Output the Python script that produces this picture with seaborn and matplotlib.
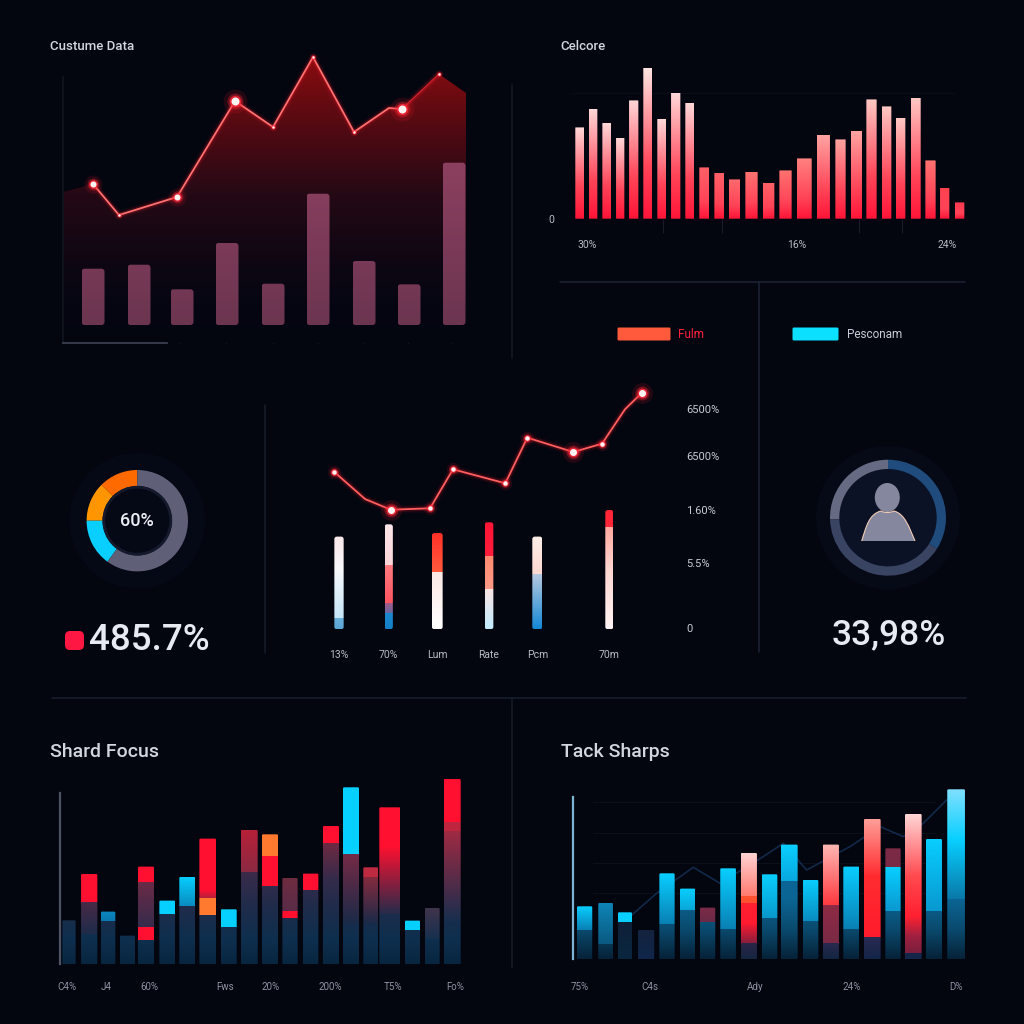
import numpy as np
import pandas as pd
import seaborn as sns
import matplotlib
matplotlib.use("Agg")
import matplotlib.pyplot as plt
from matplotlib.colors import to_rgb
from matplotlib.patches import Circle, Ellipse, FancyBboxPatch, PathPatch, Rectangle
from matplotlib.path import Path

BG = "#03050f"
sns.set_theme(style="dark", rc={"figure.facecolor": BG, "axes.facecolor": "none", "savefig.facecolor": BG})
plt.rcParams["font.family"] = ["Roboto", "DejaVu Sans"]

# ---- Custume Data: area line and bars
area_pos = [0, 30, 56, 114, 172, 210, 250, 291, 326, 339, 376, 403]
area_val = [133, 141, 110, 128, 224, 198, 268, 193, 217, 216, 251, 232]
area_big = [4, 9]
area_mid = [1, 3]
area_small = [2, 5, 6, 7, 10]
custom_pos = [30, 76, 119, 164, 210, 255, 301, 346, 391]
custom_val = [56.3, 60.3, 35.7, 82, 41.3, 131.3, 64, 40.7, 162.3]
custom_w = [23] * 9
custom_ticks = [117, 163, 210, 255, 300, 345, 389]

# ---- Celcore: red columns
cel_pos = [9.8, 23, 36.7, 50.2, 63.7, 77.8, 91.8, 105.7, 119.8, 134.3, 149.2, 164.5, 181.5,
           198.5, 215.5, 234.2, 253.3, 270.5, 286.5, 301.5, 316.5, 330.5, 345.7, 360.5, 374.7, 389.5]
cel_val = [91.3, 110, 95.7, 81, 118.3, 151, 100, 126, 116, 51.3, 45.7, 39.3, 47,
           36, 48.3, 60.3, 84, 79.3, 88, 119.3, 112.3, 101, 121, 58.3, 31, 16.3]
cel_w = [9, 8.7, 8.7, 8.3, 9.3, 9, 9, 9.3, 9, 10, 9.7, 11, 12.3,
         11.7, 12.3, 15, 13.3, 10.3, 11, 10.3, 9.7, 9.7, 10, 10.3, 9.3, 9.7]
cel_top = ["#ffd8d8", "#ffd8d8", "#ffd8d8", "#ffd8d8", "#ffd8d8", "#ffe6e2", "#ffd8d8", "#ffd8d8", "#ffd8d8",
           "#ff6068", "#ff6068", "#ff6a6e", "#ff7272", "#ff6266", "#ff7270", "#ff8280", "#ffa4a2", "#ffa4a2",
           "#ffa4a2", "#ffc8c4", "#ffc8c4", "#ffc8c4", "#ffc8c4", "#ff7270", "#ff4250", "#ff3850"]
cel_tick_pos = [16.7, 226.7, 376.7]
cel_tick_labels = ["30%", "16%", "24%"]
cel_minor = [92.7, 152.3, 289, 332]

# ---- Donut and progress ring
donut_val = [12.5, 12.5, 15, 60]
donut_col = ["#ff6a00", "#ff9500", "#08cfff", "#5f5f78"]
ring_val = [25.5, 40.52, 33.98]
ring_col = ["#666a82", "#394463", "#1f4c7c"]

# ---- Middle panel: line above segmented bars
mid_line_pos = [4, 35, 60.7, 100, 123, 175.3, 197.3, 243.3, 272, 295, 312]
mid_line_val = [157.6, 130.3, 119.6, 121, 160, 146, 191.6, 177.3, 185.6, 220, 236.6]
mid_big = [2, 7, 10]
mid_small = [0, 3, 4, 5, 6, 8]
mid_pos = [9, 58.7, 107.3, 159, 207.3, 279.3]
mid_val = [92.7, 105, 96.3, 107, 92.7, 119.3]
mid_w = [9.3, 8.3, 10.7, 8.7, 10, 8]
mid_labels = ["13%", "70%", "Lum", "Rate", "Pcm", "70m"]
mid_layers = [
    [(11, 59.3, "#c6e6f8", "#f8f8fb"), (59.3, 92.7, "#f8f8fb", "#fbe8ea"), (0, 11, "#5aa4d4", "#6ab0dc")],
    [(64.3, 105, "#fbd5d8", "#fbe6ea"), (26, 64.3, "#ff5460", "#ff7a80"), (16, 26, "#6a6aa0", "#a05a8a"), (0, 16, "#1580c8", "#1a88d0")],
    [(56.7, 96.3, "#ff5a3c", "#ff3028"), (0, 56.7, "#ffffff", "#fbe8e4")],
    [(73.3, 107, "#ff1c3c", "#ff1535"), (40, 73.3, "#ff9a88", "#ff8a70"), (0, 40, "#c0ecff", "#fbe4e4")],
    [(54.3, 92.7, "#fcd8d0", "#fceee8"), (0, 54.3, "#1488d4", "#b4c8e0")],
    [(102, 119.3, "#ff2538", "#ff2538"), (60, 102, "#ffd5d0", "#ffa8a0"), (0, 60, "#fff4f4", "#ffd5d0")],
]
mid_right_pos = [220, 173, 119, 66, 1]
mid_right_labels = ["6500%", "6500%", "1.60%", "5.5%", "0"]

# ---- Shard Focus
RED, CYAN, ORNG = "#ff1030", "#06d0ff", "#ff7a2e"
focus_pos = [9, 29.2, 48, 67.5, 86, 107.2, 127.3, 147.7, 168.7, 189.2, 210, 230, 250.5, 271, 291,
             310.8, 329.8, 352.5, 372.2, 392.2]
focus_val = [44, 90.3, 52.7, 28.7, 97.7, 63.7, 87.3, 125.7, 55, 134.3, 130, 86.3, 90.7, 138.3, 177,
             97, 157, 43.7, 56.3, 185.3]
focus_w = [13.3, 16.3, 14.7, 15, 16, 15.7, 16, 16.7, 16, 17, 16, 15.3, 15.7, 16, 16, 15, 21, 15, 15, 17]
focus_layers = [
    [],
    [(61.7, 90.3, RED, RED), (30, 61.7, "#1e2c4a", "#482a46")],
    [(42.7, 52.7, "#0a78b0", "#0a86c0")],
    [],
    [(82, 97.7, RED, RED), (37, 82, "#362c4c", "#6a2a46"), (23.7, 37, RED, RED)],
    [(50, 63.7, CYAN, CYAN)],
    [(57.7, 87.3, "#0a8cc0", CYAN)],
    [(74, 125.7, RED, RED), (66, 74, "#b5203a", RED), (48.7, 66, ORNG, ORNG)],
    [(37, 55, CYAN, CYAN)],
    [(91, 134.3, "#8a2a42", "#b82038")],
    [(108.3, 130, ORNG, ORNG), (78.3, 108.3, RED, RED)],
    [(52.7, 86.3, "#5a2c48", "#6e2c40"), (46, 52.7, RED, RED)],
    [(74.3, 90.7, RED, RED)],
    [(120.3, 138.3, RED, RED)],
    [(110.3, 177, CYAN, CYAN), (40, 110.3, "#182a48", "#762a46")],
    [(87.7, 97, "#c02a40", "#c02a40"), (40, 87.7, "#182a48", "#862a3e")],
    [(117.7, 157, RED, RED), (50, 117.7, "#242c4a", RED)],
    [(33.7, 43.7, CYAN, CYAN)],
    [(25, 56.3, "#16304e", "#42344c")],
    [(141.7, 185.3, RED, RED), (132.7, 141.7, "#c02540", "#c02540"), (40, 132.7, "#142e4e", "#a02a42")],
]
focus_ramp = [(0, "#08263f"), (25, "#0e2f4f"), (55, "#1e2c4a"), (85, "#352b4a"),
              (110, "#5e2a44"), (135, "#852840"), (190, "#a82a3e")]
focus_tick_pos = [7.3, 46, 89, 165, 210.7, 270.7, 333.3, 395]
focus_tick_labels = ["C4%", "J4", "60%", "Fws", "20%", "200%", "T5%", "Fo%"]

# ---- Tack Sharps
C2 = "#08cfff"
tack_pos = [11.3, 32.3, 51.7, 72.8, 93.7, 114.2, 134.3, 154.8, 175.5, 196.2, 216, 237.2, 257.5, 278,
            299, 319.7, 340, 360.7, 382.8]
tack_val = [53, 56.3, 47, 29.3, 86, 70.7, 51.7, 91, 106.3, 85, 114.7, 79.3, 114.7, 92.7, 140.3,
            111, 145.3, 120.3, 170]
tack_w = [15.3, 14.7, 14, 16.3, 15.3, 15, 15.3, 15.7, 16.3, 15.7, 16.7, 15.7, 16.3, 16, 16.7, 15.3, 16.7, 16, 17.7]
tack_layers = [
    [(29.3, 53, "#0a80b4", C2)],
    [(15, 56.3, "#0a5a82", "#0e86b8")],
    [(36.7, 47, C2, C2), (0, 36.7, "#0a2740", "#0f2038")],
    [(0, 29.3, "#10264a", "#14233e")],
    [(35, 86, "#0a80b4", C2)],
    [(49.3, 70.7, "#08a8d8", C2)],
    [(36.7, 51.7, "#6a2a48", "#7a2a45")],
    [(30, 91, "#0a80b4", C2)],
    [(62.7, 106.3, "#ff7a70", "#ffd5d5"), (55.3, 62.7, "#ff5030", "#ff5030"), (36, 55.3, "#ff1a30", "#ff2030"),
     (16, 36, "#8a1f3c", "#ff1a30"), (0, 16, "#152540", "#2a2548")],
    [(41, 85, "#0898cc", C2)],
    [(77.7, 114.7, "#08a8de", C2)],
    [(37.7, 79.3, "#0a8cc0", C2)],
    [(54.3, 114.7, "#ff3a40", "#ffb8b4"), (16, 54.3, "#7a2a45", "#8f2a45"), (0, 16, "#122540", "#2a2a50")],
    [(30, 92.7, "#0a80b4", C2)],
    [(82.7, 140.3, "#ff2c30", "#ffa09a"), (21.5, 82.7, "#ff1c2c", "#ff2c30"), (0, 21.5, "#14254a", "#2a2a50")],
    [(92, 111, "#7a2a45", "#7a2a45"), (47.7, 92, "#0a98d0", C2)],
    [(82.7, 145.3, "#ff4a50", "#ffd8d8"), (42.7, 82.7, "#ff2030", "#ff4a50"), (22.7, 42.7, "#a02040", "#ff2030"),
     (6, 22.7, "#7a1f3c", "#a02040"), (0, 6, "#14254a", "#14254a")],
    [(47.7, 120.3, "#0898d0", C2)],
    [(119.3, 170, C2, "#80e0ff"), (60, 119.3, "#0a78a8", C2)],
]
tack_ramp = [(0, "#062238"), (30, "#0a4a6e"), (60, "#0a6594"), (180, "#0a6594")]
tack_trend_pos = [56.7, 83.3, 120, 146.7, 190, 210, 233.3, 276.7, 306.7, 330, 350, 373.3]
tack_trend_val = [42.7, 66, 92, 76, 102.7, 116, 89.3, 112.7, 132.7, 122.7, 136, 159.3]
tack_grid = [157.7, 126, 96, 66]
tack_tick_pos = [6.7, 76.7, 181.7, 278.3, 382.7]
tack_tick_labels = ["75%", "C4s", "Ady", "24%", "D%"]

fig = plt.figure(figsize=(10.24, 10.24), dpi=100)
SIZE = 1024.0


def panel(left, top, right, bottom, zorder=2):
    """Axes placed by pixel box, with one data unit per pixel when limits span the box."""
    ax = fig.add_axes([left / SIZE, 1 - bottom / SIZE, (right - left) / SIZE, (bottom - top) / SIZE], zorder=zorder)
    ax.set_facecolor("none")
    ax.grid(False)
    for s in ax.spines.values():
        s.set_visible(False)
    ax.tick_params(left=False, bottom=False, labelleft=False, labelbottom=False)
    return ax


def mix(values, stops):
    hs = [s[0] for s in stops]
    cols = np.array([to_rgb(s[1]) for s in stops])
    return np.stack([np.interp(values, hs, cols[:, i]) for i in range(3)], axis=1)


def gradient_bars(ax, pos, val, widths, ramp, layers=None, radius=1.0):
    """Draw bars with seaborn, then paint each one with its vertical colour layers."""
    frame = pd.DataFrame({"pos": pos, "value": val})
    sns.barplot(data=frame, x="pos", y="value", native_scale=True, errorbar=None, color="#333333", ax=ax)
    for i, patch in enumerate(list(ax.patches)):
        centre = patch.get_x() + patch.get_width() / 2
        h = patch.get_height()
        x0, x1 = centre - widths[i] / 2, centre + widths[i] / 2
        rows = np.linspace(0, h, max(int(h * 4), 4))
        rgb = mix(rows, ramp)
        for lo, hi, c_lo, c_hi in (layers[i] if layers else []):
            mask = (rows >= lo) & (rows <= hi)
            rgb[mask] = mix(rows[mask], [(lo, c_lo), (hi, c_hi)])
        patch.set_visible(False)
        im = ax.imshow(rgb[:, None, :], origin="lower", extent=(x0, x1, 0, h), aspect="auto",
                       interpolation="nearest", zorder=3)
        shape = FancyBboxPatch((x0 + radius, radius), widths[i] - 2 * radius, h - 2 * radius,
                               boxstyle=f"round,pad={radius},rounding_size={radius}",
                               transform=ax.transData)
        im.set_clip_path(shape)


def glow_line(ax, x, y, core, width=1.4):
    frame = pd.DataFrame({"x": x, "y": y})
    for lw, alpha, col in [(6, 0.06, "#ff1a2a"), (3.5, 0.18, "#ff1a2a"), (width, 1.0, core)]:
        sns.lineplot(data=frame, x="x", y="y", sort=False, errorbar=None, lw=lw, alpha=alpha, color=col,
                     ax=ax, zorder=5, solid_joinstyle="round")


def glow_dots(ax, x, y, diameter):
    frame = pd.DataFrame({"x": x, "y": y})
    for scale, alpha, col in [(3.0, 0.12, "#ff2030"), (2.0, 0.35, "#ff2030"), (1.45, 0.8, "#ff2a3a"), (1.0, 1.0, "#fff2f2")]:
        s = (diameter * scale * 0.72) ** 2
        sns.scatterplot(data=frame, x="x", y="y", s=s, alpha=alpha, color=col, linewidth=0, ax=ax, zorder=6, clip_on=False)


def finish(ax, xmax, ymin, ymax):
    ax.set_xlim(0, xmax)
    ax.set_ylim(ymin, ymax)
    ax.set_xlabel("")
    ax.set_ylabel("")


# Layout layers: rules and halos below, text above
under = fig.add_axes([0, 0, 1, 1], zorder=0)
under.set_xlim(0, SIZE)
under.set_ylim(SIZE, 0)
under.axis("off")
over = fig.add_axes([0, 0, 1, 1], zorder=10)
over.set_xlim(0, SIZE)
over.set_ylim(SIZE, 0)
over.axis("off")
over.patch.set_alpha(0)

for xs, ys, col in [((560, 965), (282, 282), "#1c2434"), ((759, 759), (282, 652), "#1c2434"),
                    ((512, 512), (85, 358), "#141a27"), ((265, 265), (405, 653), "#171d2b"),
                    ((52, 966), (698, 698), "#1a2030"), ((512, 512), (698, 968), "#161c2a")]:
    under.plot(xs, ys, color=col, lw=1.1)

# Custume Data
ax = panel(63, 50, 470, 343)
poly = ax.fill_between(area_pos, area_val, -18, color="none")
rows = np.linspace(-18, 275, 500)
area_rgb = mix(rows, [(-18, BG), (20, "#050612"), (70, "#100713"), (130, "#240915"), (200, "#540a12"), (270, "#8c0c10")])
im = ax.imshow(area_rgb[:, None, :], origin="lower", extent=(0, 403, -18, 275), aspect="auto", zorder=1)
im.set_clip_path(poly.get_paths()[0], ax.transData)
gradient_bars(ax, custom_pos, custom_val, custom_w, [(0, "#6b3550"), (165, "#8d4060")], radius=3)
glow_line(ax, area_pos[1:10], area_val[1:10], "#ff7070", 1.3)
glow_line(ax, area_pos[9:11], area_val[9:11], "#c8222c", 1.0)
glow_dots(ax, [area_pos[i] for i in area_big], [area_val[i] for i in area_big], 8)
glow_dots(ax, [area_pos[i] for i in area_mid], [area_val[i] for i in area_mid], 6)
glow_dots(ax, [area_pos[i] for i in area_small], [area_val[i] for i in area_small], 2.5)
ax.spines["left"].set_visible(True)
ax.spines["left"].set_color("#10141f")
ax.spines["left"].set_bounds(-18, 248)
ax.spines["bottom"].set_visible(True)
ax.spines["bottom"].set_color("#3b4254")
ax.spines["bottom"].set_bounds(0, 104)
ax.set_xticks(custom_ticks, [""] * len(custom_ticks))
ax.tick_params(bottom=True, length=3, width=0.8, color="#23283a", direction="in")
finish(ax, 407, -18, 275)

# Celcore
ax = panel(570, 50, 975, 218.7)
ax.axhline(125.7, color="#090c17", lw=0.8, xmax=0.95, zorder=1)
cel_layers = [[(0, v * 0.35, "#ff1438", "#ff4458"), (v * 0.35, v, "#ff4458", top)] for v, top in zip(cel_val, cel_top)]
gradient_bars(ax, cel_pos, cel_val, cel_w, [(0, "#ff1438"), (160, "#ff1438")], cel_layers, radius=0.5)
ax.set_xticks(cel_tick_pos, cel_tick_labels)
ax.set_xticks(cel_minor, minor=True)
ax.set_yticks([0], ["0"])
ax.tick_params(axis="x", which="major", bottom=False, labelbottom=True, pad=9, labelsize=7.5, labelcolor="#b8bcc6")
ax.tick_params(axis="x", which="minor", bottom=True, length=10, width=0.8, color="#171c29")
ax.tick_params(axis="y", left=False, labelleft=True, pad=5, labelsize=7.5, labelcolor="#b8bcc6")
finish(ax, 405, 0, 168.7)

# Legend swatches
over.add_patch(FancyBboxPatch((618, 328), 52, 12, boxstyle="round,pad=0.5,rounding_size=1.5", fc="#ff5a3c", ec="none"))
over.add_patch(FancyBboxPatch((793, 328), 45, 12, boxstyle="round,pad=0.5,rounding_size=1.5", fc="#0ce0ff", ec="none"))
over.text(678, 334.5, "Fulm", color="#ff2040", fontsize=8.5, va="center")
over.text(847, 334.5, "Pesconam", color="#c8ccd8", fontsize=8.5, va="center")

# Donut with centre figure
under.add_patch(Circle((137.3, 520.7), 68, fc="#050815", ec="none"))
ax = panel(137.3 - 55, 520.7 - 55, 137.3 + 55, 520.7 + 55)
ax.pie(donut_val, colors=donut_col, radius=50.7, startangle=90, wedgeprops={"width": 16, "linewidth": 0}, frame=False)
ax.add_patch(Circle((0, 0), 33.5, fc="none", ec="#141a2c", lw=2))
ax.set_xlim(-55, 55)
ax.set_ylim(-55, 55)
over.text(137.3, 521, "60%", color="#eceef4", fontsize=13, weight="medium", ha="center", va="center")
over.add_patch(FancyBboxPatch((68, 634), 13, 13, boxstyle="round,pad=3,rounding_size=5", fc="#ff1744", ec="none"))
over.text(89, 640.5, "485.7%", color="#e8eaf2", fontsize=26.5, weight="medium", ha="left", va="center")

# Middle line and segmented bars
ax = panel(330, 380, 650, 629.3)
gradient_bars(ax, mid_pos, mid_val, mid_w, [(0, "#ffffff"), (130, "#ffffff")], mid_layers, radius=2.5)
glow_line(ax, mid_line_pos, mid_line_val, "#ff5f5f", 1.3)
glow_dots(ax, [mid_line_pos[i] for i in mid_big], [mid_line_val[i] for i in mid_big], 7)
glow_dots(ax, [mid_line_pos[i] for i in mid_small], [mid_line_val[i] for i in mid_small], 4.5)
ax.set_xticks(mid_pos, mid_labels)
ax.set_yticks(mid_right_pos, mid_right_labels)
ax.tick_params(axis="x", bottom=False, labelbottom=True, pad=9, labelsize=7.5, labelcolor="#b8bcc6")
ax.tick_params(axis="y", left=False, right=False, labelleft=False, labelright=True, pad=20, labelsize=8, labelcolor="#c8ccd6")
finish(ax, 320, 0, 249.3)

# Progress ring with person icon
under.add_patch(Circle((888, 517.7), 72, fc="#060916", ec="none"))
ax = panel(888 - 60, 517.7 - 60, 888 + 60, 517.7 + 60)
ax.add_patch(Circle((0, 0), 49, fc="#0c1225", ec="none"))
ax.pie(ring_val, colors=ring_col, radius=58, startangle=90, wedgeprops={"width": 9.3, "linewidth": 0}, frame=False)
ax.set_xlim(-60, 60)
ax.set_ylim(-60, 60)
over.add_patch(Ellipse((887.3, 497.5), 25, 29, fc="#85879e", ec="none"))
shoulders = [(861.7, 541), (866, 527), (869, 514), (881, 511), (884, 513), (890, 513), (894, 511),
             (905, 514), (909, 527), (915, 541)]
codes = [Path.MOVETO, Path.CURVE4, Path.CURVE4, Path.CURVE4, Path.CURVE4, Path.CURVE4, Path.CURVE4,
         Path.CURVE4, Path.CURVE4, Path.CURVE4]
over.add_patch(PathPatch(Path(shoulders, codes), fc="#85879e", ec="none"))
over.add_patch(PathPatch(Path(shoulders, codes), fc="none", ec="#f2cdb8", lw=0.8))
over.add_patch(Rectangle((859, 541), 59, 2.5, fc="#0c1225", ec="none"))
over.text(889, 635, "33,98%", color="#e8eaf2", fontsize=25.5, weight="medium", ha="center", va="center")

# Shard Focus
ax = panel(60, 770, 470, 964.3)
gradient_bars(ax, focus_pos, focus_val, focus_w, focus_ramp, focus_layers, radius=1.2)
ax.spines["left"].set_visible(True)
ax.spines["left"].set_color("#4e5364")
ax.spines["left"].set_linewidth(1.6)
ax.spines["left"].set_bounds(0, 171)
ax.set_xticks(focus_tick_pos, focus_tick_labels)
ax.tick_params(axis="x", bottom=False, labelbottom=True, pad=7, labelsize=7, labelcolor="#8f94a2")
finish(ax, 410, 0, 194.3)

# Tack Sharps
ax = panel(573.3, 780, 975, 959.3)
for g in tack_grid:
    ax.axhline(g, color="#0a0f1a", lw=0.8, xmin=0.05, xmax=0.9, zorder=1)
sns.lineplot(x=tack_trend_pos, y=tack_trend_val, sort=False, errorbar=None, color="#12294a", lw=1.2, ax=ax, zorder=1)
gradient_bars(ax, tack_pos, tack_val, tack_w, tack_ramp, tack_layers, radius=1.2)
ax.spines["left"].set_visible(True)
ax.spines["left"].set_color("#7ab4d0")
ax.spines["left"].set_linewidth(1.6)
ax.spines["left"].set_bounds(0, 162.6)
ax.set_xticks(tack_tick_pos, tack_tick_labels)
ax.tick_params(axis="x", bottom=False, labelbottom=True, pad=10, labelsize=7, labelcolor="#8f94a2")
finish(ax, 401.7, 0, 179.3)

# Panel titles
for x, y, label, size in [(50, 46, "Custume Data", 9.5), (560, 46, "Celcore", 9.5),
                          (50, 752, "Shard Focus", 14), (561, 752, "Tack Sharps", 14)]:
    over.text(x, y, label, color="#d4d6de", fontsize=size, weight="medium", ha="left", va="center")

fig.savefig("out.png", dpi=100, facecolor=BG)
